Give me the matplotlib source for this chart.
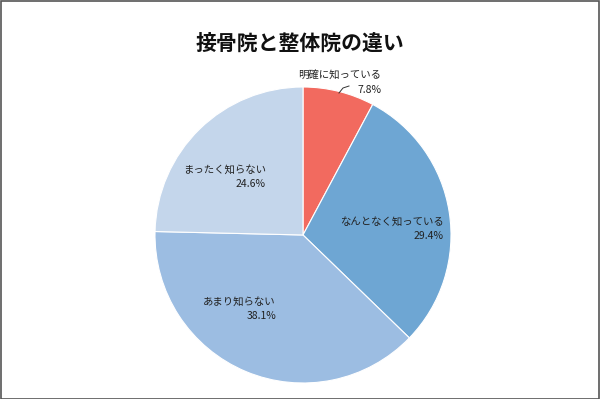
import matplotlib
matplotlib.use("Agg")
import matplotlib.pyplot as plt
from matplotlib.patches import Rectangle

plt.rcParams['font.family'] = ['Noto Sans CJK JP', 'DejaVu Sans']

title = "接骨院と整体院の違い"
categories = ["明確に知っている", "なんとなく知っている", "あまり知らない", "まったく知らない"]
values = [7.8, 29.4, 38.1, 24.6]
colors = ["#f26a5f", "#6ea6d3", "#9cbde2", "#c4d6eb"]

W, H = 600, 399
fig = plt.figure(figsize=(W / 100, H / 100), dpi=100)
ax = fig.add_axes([0, 0, 1, 1])

cx, cy, r = 303, H - 235, 148
ax.pie(values, colors=colors, startangle=90, counterclock=False,
       center=(cx, cy), radius=r, frame=True,
       wedgeprops=dict(edgecolor='white', linewidth=0.8))
ax.set_xlim(0, W)
ax.set_ylim(0, H)
ax.set_aspect('auto')
ax.axis('off')

fig.text(0.5, 1 - 43 / H, title, ha='center', va='center',
         fontsize=15, fontweight='bold', color='#111111')

# label anchor (right edge x, first line y) in pixels, in category order
label_pos = [(381, 76), (444, 222), (276, 302), (266, 170)]
for cat, val, (x, y) in zip(categories, values, label_pos):
    ax.text(x, H - y, cat, ha='right', va='center',
            fontsize=7.5, color='#222222')
    ax.text(x, H - y - 14, f"{val}%", ha='right', va='center',
            fontsize=7.5, color='#222222')

# leader line for the small slice
ax.plot([339, 343, 349], [H - 93, H - 88, H - 86], color='#333333', lw=0.7)

fig.patches.append(Rectangle((0.5 / W, 0.5 / H), 1 - 1.5 / W, 1 - 1.5 / H,
                             transform=fig.transFigure, fill=False,
                             edgecolor='#555555', linewidth=1.2))

fig.savefig("out.png", dpi=100)
